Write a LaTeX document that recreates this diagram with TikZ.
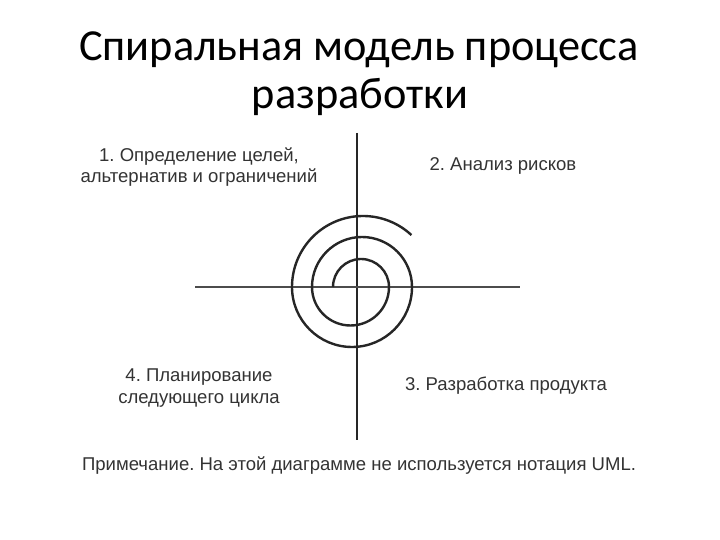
\documentclass[tikz,border=0pt]{standalone}
\usepackage{fontspec}
\setmainfont{Liberation Sans}
\newfontfamily\titlefont{Carlito}
\frenchspacing
\begin{document}
\begin{tikzpicture}[x=1bp,y=1bp,
  lbl/.style={text=black!80, font=\fontsize{18.6}{21.5}\selectfont, align=center, inner sep=0pt},
  ttl/.style={text=black, font=\titlefont\fontsize{44.5}{48}\selectfont, inner sep=0pt},
  axis/.style={draw=black!85, line width=1.8bp},
  spiral/.style={draw=black!85, line width=2.4bp}]
\useasboundingbox[fill=white] (0,0) rectangle (720,540);
% title
\node[ttl] (t1) at (359,490) {Спиральная модель процесса};
\node[ttl] (t2) at (360,443) {разработки};
% axes
\coordinate (vtop) at (357,407);
\coordinate (vbot) at (357,100);
\coordinate (hl) at (195,253);
\coordinate (hr) at (520,253);
\path[axis] (vtop) -- (vbot);
\path[axis, draw=black!70, line width=1.5bp] (hl) -- (hr);
% spiral
\coordinate (s0) at (333,253);
\path[spiral] (s0) arc[start angle=180,end angle=0,radius=28]
  arc[start angle=0,end angle=-180,radius=38.5]
  arc[start angle=180,end angle=0,radius=50]
  arc[start angle=0,end angle=-180,radius=60]
  arc[start angle=180,end angle=47,radius=71];
% labels
\node[lbl] (q1) at (199,373) {1. Определение целей,\\альтернатив и ограничений};
\node[lbl] (q2) at (503,374) {2. Анализ рисков};
\node[lbl] (q4) at (199,152) {4. Планирование\\следующего цикла};
\node[lbl] (q3) at (506,154) {3. Разработка продукта};
\node[lbl] (note) at (359,74) {Примечание. На этой диаграмме не используется нотация UML.};
\end{tikzpicture}
\end{document}
